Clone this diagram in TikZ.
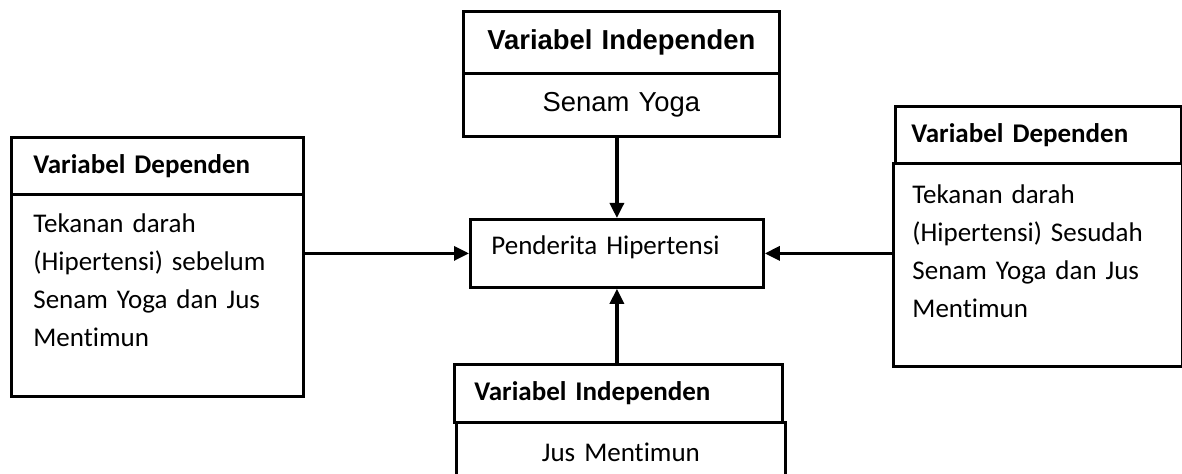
\documentclass[tikz,border=0pt]{standalone}
\usepackage{fontspec}
\usepackage{tikz}
\usetikzlibrary{arrows.meta, positioning}
\newfontfamily\calibfont[Ligatures=NoCommon]{Carlito}
\newfontfamily\arialfont{Liberation Sans}

\begin{document}
\begin{tikzpicture}[
  x=0.5pt, y=-0.5pt,
  font=\calibfont\fontsize{13.5}{19}\selectfont,
  box/.style={draw=black, line width=1.4pt, anchor=north west, inner ysep=0pt},
  head/.style={box, font=\calibfont\bfseries\fontsize{13.5}{19}\selectfont,
               align=left, text height=9.5pt, text depth=2pt},
  body/.style={box, align=left, text height=19pt},
  arialhead/.style={box, font=\arialfont\bfseries\fontsize{13.7}{19}\selectfont,
                    align=center, text height=10pt, text depth=3pt},
  flow/.style={-{Triangle[length=7.5pt, width=7pt]}, line width=1.6pt}
]
  \useasboundingbox (0,0) rectangle (1182,474);
  \clip (0,0) rectangle (1182,474);

  % senam yoga (top)
  \node[arialhead, text width=158pt, inner xsep=0pt, minimum height=31pt]
    (yogaHead) at (462,10) {Variabel Independen};
  \node[box, font=\arialfont\fontsize{13.7}{19}\selectfont, align=center,
        text width=158pt, inner xsep=0pt, minimum height=31.5pt,
        text height=10pt, text depth=3pt]
    (yogaBody) at (462,72) {Senam Yoga};

  % penderita
  \node[box, align=left, text width=125.5pt, inner xsep=10.5pt,
        minimum height=34pt, text height=8pt, text depth=7pt]
    (pasien) at (469,218) {Penderita Hipertensi};

  % sebelum (left)
  \node[head, text width=124pt, inner xsep=11pt, minimum height=28.5pt]
    (sebelumHead) at (10,136) {Variabel Dependen};
  \node[body, text width=124pt, inner xsep=11pt, text depth=82pt]
    (sebelumBody) at (10,193)
    {Tekanan darah\\(Hipertensi) sebelum\\Senam Yoga dan Jus\\Mentimun};

  % sesudah (right)
  \node[head, text width=127pt, inner xsep=8pt, minimum height=28.5pt]
    (sesudahHead) at (894,105) {Variabel Dependen};
  \node[body, text width=125.5pt, inner xsep=9.5pt, text height=20pt, text depth=81.5pt]
    (sesudahBody) at (892,162)
    {Tekanan darah\\(Hipertensi) Sesudah\\Senam Yoga dan Jus\\Mentimun};

  % jus mentimun (bottom)
  \node[head, text width=144pt, inner xsep=10pt, minimum height=29pt]
    (jusHead) at (453,363) {Variabel Independen};
  \node[body, align=center, text width=164.5pt, inner xsep=0pt,
        text height=19.5pt, text depth=20pt]
    (jusBody) at (455,421) {Jus Mentimun};

  \draw[flow] (yogaBody.south -| pasien.north) -- (pasien.north);
  \draw[flow] (sebelumBody.east |- pasien.west) -- (pasien.west);
  \draw[flow] (sesudahBody.west |- pasien.east) -- (pasien.east);
  \draw[flow] (jusHead.north -| pasien.south) -- (pasien.south);
\end{tikzpicture}
\end{document}
